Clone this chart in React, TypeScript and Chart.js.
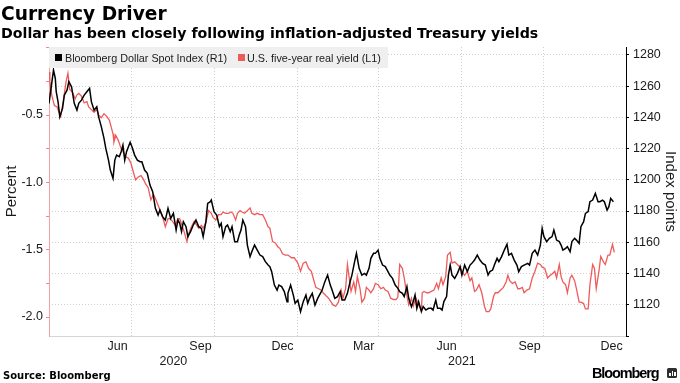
import { useEffect, useRef } from "react";
import { Chart, registerables } from "chart.js";

Chart.register(...registerables);

// x values are day numbers counted from 1 Jan 2020 (= day 0)
const dollarDays = [
  90, 95, 97, 98, 100, 102, 105, 107, 110, 112,
  115, 118, 121, 123, 126, 129, 132, 135, 137, 140,
  143, 145, 148, 151, 153, 156, 158, 161, 163, 165,
  168, 170, 172, 174, 176, 180, 182, 185, 188, 191,
  193, 196, 199, 202, 205, 208, 211, 213, 216, 219,
  222, 225, 228, 231, 233, 235, 237, 239, 242, 244,
  247, 250, 253, 256, 259, 261, 264, 266, 269, 270,
  273, 276, 279, 281, 283, 286, 288, 291, 293, 296,
  299, 301, 303, 305, 308, 310, 313, 315, 318, 321,
  324, 327, 330, 333, 335, 337, 340, 343, 345, 348,
  351, 354, 355, 358, 361, 363, 366, 369, 372, 375,
  377, 379, 382, 385, 388, 391, 393, 396, 399, 402,
  404, 407, 410, 413, 415, 418, 421, 424, 426, 429,
  431, 434, 437, 440, 442, 445, 447, 450, 452, 455,
  457, 460, 463, 466, 468, 471, 474, 477, 479, 482,
  484, 487, 489, 492, 494, 496, 498, 500, 503, 505,
  508, 511, 514, 516, 519, 521, 524, 526, 528, 531,
  533, 535, 537, 540, 543, 546, 548, 551, 554, 557,
  559, 562, 565, 568, 571, 574, 577, 579, 582, 584,
  587, 589, 592, 595, 598, 600, 603, 606, 609, 611,
  614, 617, 621, 623, 626, 629, 632, 635, 637, 639,
  642, 645, 648, 650, 653, 656, 658, 660, 663, 665,
  668, 670, 673, 675, 678, 680, 683, 685, 688, 690,
  693, 696, 699, 701, 704, 706, 709, 711, 713, 716,
];
const dollarIndex = [
  1248.9, 1270.2, 1264.9, 1256.4, 1250.0, 1240.4, 1245.7, 1254.2, 1257.4, 1262.8,
  1259.6, 1248.9, 1244.6, 1248.9, 1251.0, 1254.2, 1256.4, 1258.5, 1250.0, 1244.6,
  1246.8, 1240.4, 1234.0, 1226.5, 1220.1, 1212.6, 1206.2, 1200.9, 1212.6, 1215.8,
  1214.8, 1218.0, 1222.2, 1212.6, 1218.0, 1224.0, 1221.2, 1215.8, 1212.6, 1211.6,
  1211.6, 1206.2, 1204.1, 1196.6, 1192.4, 1181.7, 1177.4, 1180.6, 1176.4, 1174.2,
  1181.7, 1175.3, 1178.5, 1167.8, 1174.2, 1172.1, 1166.8, 1173.2, 1170.0, 1163.6,
  1166.8, 1171.0, 1174.2, 1170.0, 1168.9, 1163.6, 1173.2, 1184.9, 1186.0, 1187.0,
  1179.6, 1177.4, 1170.0, 1172.1, 1163.6, 1170.0, 1171.0, 1166.8, 1170.0, 1160.4,
  1160.4, 1164.6, 1167.8, 1174.2, 1170.0, 1158.2, 1150.8, 1154.0, 1158.2, 1155.0,
  1151.8, 1150.8, 1147.6, 1145.4, 1144.4, 1141.2, 1132.6, 1129.4, 1132.6, 1131.6,
  1128.4, 1122.0, 1127.3, 1132.6, 1126.2, 1120.9, 1123.0, 1115.6, 1122.0, 1126.2,
  1120.9, 1124.1, 1127.3, 1119.8, 1124.1, 1127.3, 1129.4, 1134.8, 1139.0, 1132.6,
  1129.4, 1124.1, 1125.2, 1128.4, 1123.0, 1123.0, 1127.3, 1134.8, 1139.0, 1147.6,
  1152.9, 1143.3, 1139.0, 1140.1, 1139.0, 1143.3, 1149.7, 1152.9, 1152.9, 1155.0,
  1149.7, 1145.4, 1144.4, 1141.2, 1139.0, 1136.9, 1132.6, 1130.5, 1128.4, 1127.3,
  1125.2, 1131.6, 1124.1, 1118.8, 1122.0, 1126.2, 1117.7, 1122.0, 1115.6, 1118.8,
  1116.6, 1117.7, 1117.7, 1116.6, 1123.0, 1117.7, 1117.7, 1116.6, 1122.0, 1125.2,
  1139.0, 1145.4, 1139.0, 1136.9, 1140.1, 1144.4, 1139.0, 1145.4, 1141.2, 1145.4,
  1146.5, 1148.6, 1151.8, 1148.6, 1146.5, 1145.4, 1139.0, 1141.2, 1142.2, 1145.4,
  1149.7, 1147.6, 1150.8, 1155.0, 1158.7, 1151.8, 1152.9, 1148.6, 1145.4, 1141.2,
  1144.4, 1145.4, 1146.5, 1145.4, 1152.9, 1155.0, 1151.8, 1158.2, 1168.9, 1163.6,
  1160.4, 1162.5, 1163.6, 1167.8, 1161.4, 1160.4, 1158.2, 1155.0, 1156.1, 1157.2,
  1154.0, 1160.4, 1162.5, 1161.4, 1159.3, 1170.0, 1173.2, 1178.5, 1179.6, 1186.0,
  1187.0, 1191.3, 1186.0, 1186.0, 1187.0, 1186.0, 1180.6, 1182.8, 1188.1, 1186.0,
];

const yieldDays = [
  90, 91, 93, 96, 99, 101, 103, 106, 109, 111,
  113, 116, 119, 121, 123, 126, 129, 132, 134, 137,
  140, 143, 145, 148, 151, 154, 157, 159, 161, 162,
  164, 167, 170, 172, 175, 178, 181, 183, 186, 189,
  192, 195, 197, 200, 203, 206, 208, 211, 214, 217,
  219, 222, 224, 227, 230, 233, 235, 238, 240, 243,
  245, 248, 251, 254, 256, 259, 261, 264, 267, 270,
  272, 275, 278, 281, 283, 286, 289, 292, 294, 297,
  299, 302, 304, 307, 310, 313, 315, 318, 321, 324,
  327, 330, 333, 335, 338, 341, 344, 346, 349, 352,
  355, 359, 362, 366, 369, 372, 375, 378, 381, 383,
  386, 389, 392, 394, 397, 400, 403, 405, 408, 411,
  414, 416, 419, 421, 423, 425, 428, 430, 432, 435,
  437, 440, 442, 445, 447, 450, 452, 455, 458, 461,
  463, 466, 469, 472, 475, 477, 479, 482, 484, 487,
  489, 492, 494, 497, 500, 503, 504, 506, 509, 511,
  514, 517, 520, 522, 525, 527, 530, 532, 535, 537,
  540, 543, 546, 548, 551, 554, 557, 559, 562, 564,
  567, 570, 573, 575, 578, 580, 583, 585, 588, 591,
  594, 597, 599, 601, 604, 607, 610, 612, 615, 617,
  620, 623, 626, 629, 632, 635, 637, 640, 643, 646,
  648, 651, 653, 656, 658, 660, 663, 665, 668, 670,
  673, 675, 678, 680, 683, 685, 688, 690, 693, 695,
  697, 700, 702, 705, 707, 710, 712, 715, 717,
];
const realYield = [
  -0.18, -0.25, -0.35, -0.43, -0.44, -0.48, -0.51, -0.39, -0.25, -0.19,
  -0.31, -0.33, -0.38, -0.35, -0.34, -0.36, -0.41, -0.40, -0.44, -0.46,
  -0.48, -0.46, -0.50, -0.52, -0.49, -0.51, -0.54, -0.59, -0.64, -0.70,
  -0.65, -0.69, -0.75, -0.77, -0.81, -0.82, -0.86, -0.91, -0.98, -0.96,
  -0.95, -0.98, -1.01, -1.04, -1.13, -1.09, -1.12, -1.17, -1.22, -1.28,
  -1.33, -1.27, -1.27, -1.29, -1.32, -1.27, -1.27, -1.33, -1.37, -1.44,
  -1.38, -1.33, -1.29, -1.32, -1.34, -1.32, -1.34, -1.30, -1.21, -1.23,
  -1.26, -1.28, -1.24, -1.24, -1.22, -1.23, -1.23, -1.22, -1.23, -1.28,
  -1.23, -1.21, -1.22, -1.23, -1.21, -1.19, -1.23, -1.24, -1.23, -1.24,
  -1.24, -1.28, -1.33, -1.34, -1.44, -1.45, -1.48, -1.49, -1.53, -1.54,
  -1.54, -1.56, -1.56, -1.60, -1.66, -1.60, -1.59, -1.64, -1.66, -1.71,
  -1.78, -1.79, -1.80, -1.82, -1.84, -1.86, -1.89, -1.91, -1.92, -1.89,
  -1.80, -1.86, -1.79, -1.61, -1.71, -1.81, -1.74, -1.81, -1.70, -1.79,
  -1.89, -1.86, -1.78, -1.80, -1.82, -1.79, -1.75, -1.76, -1.79, -1.78,
  -1.80, -1.81, -1.86, -1.87, -1.87, -1.85, -1.61, -1.64, -1.71, -1.84,
  -1.91, -1.86, -1.92, -1.86, -1.91, -1.95, -1.82, -1.81, -1.82, -1.82,
  -1.81, -1.80, -1.75, -1.79, -1.71, -1.76, -1.70, -1.54, -1.52, -1.60,
  -1.59, -1.61, -1.63, -1.66, -1.69, -1.66, -1.73, -1.71, -1.81, -1.80,
  -1.76, -1.82, -1.92, -1.96, -1.96, -1.94, -1.85, -1.82, -1.82, -1.80,
  -1.78, -1.74, -1.69, -1.73, -1.75, -1.74, -1.79, -1.79, -1.78, -1.82,
  -1.80, -1.79, -1.71, -1.66, -1.60, -1.61, -1.63, -1.64, -1.71, -1.69,
  -1.68, -1.66, -1.71, -1.61, -1.70, -1.74, -1.76, -1.82, -1.71, -1.69,
  -1.73, -1.79, -1.89, -1.89, -1.90, -1.94, -1.94, -1.76, -1.61, -1.64,
  -1.79, -1.66, -1.55, -1.59, -1.61, -1.54, -1.54, -1.46, -1.52,
];

// axis definitions (day numbers from 1 Jan 2020)
const xMin = 90;
const xMax = 730;
const gridDays = [182, 274, 366, 456, 547, 639];
const monthLabelDays = [166, 258, 349, 439, 531, 623, 714];
const monthLabels = ["Jun", "Sep", "Dec", "Mar", "Jun", "Sep", "Dec"];
const yearLabelDays = [228, 548];
const yearLabels = ["2020", "2021"];

const leftMin = -2.141;
const leftMax = 0.005;
const leftTicks = [-2, -1.75, -1.5, -1.25, -1, -0.75, -0.5, -0.25, 0];

const rightMin = 1100;
const rightMax = 1285;
const rightTicks = [
  1100, 1110, 1120, 1130, 1140, 1150, 1160, 1170, 1180, 1190,
  1200, 1210, 1220, 1230, 1240, 1250, 1260, 1270, 1280,
];

const seriesNames = ["Bloomberg Dollar Spot Index (R1)", "U.S. five-year real yield (L1)"];

const BLACK = "#000000";
const RED = "#ef5b5b";
const GRID = "#cfcfcf";
const FONT = "'Liberation Sans', Arial, sans-serif";
const HEAD_FONT = "'DejaVu Sans', Verdana, sans-serif";
const TRANSPARENT = "rgba(0,0,0,0)";

export default function App() {
  const canvasRef = useRef<HTMLCanvasElement>(null);

  useEffect(() => {
    const canvas = canvasRef.current;
    if (!canvas) return;
    const xTicks = [...gridDays, ...monthLabelDays, ...yearLabelDays].sort((a, b) => a - b);
    const chart = new Chart(canvas, {
      type: "line",
      data: {
        datasets: [
          {
            label: seriesNames[0],
            data: dollarDays.map((d, i) => ({ x: d, y: dollarIndex[i] })),
            borderColor: BLACK,
            borderWidth: 1.5,
            pointRadius: 0,
            tension: 0,
            yAxisID: "y2",
          },
          {
            label: seriesNames[1],
            data: yieldDays.map((d, i) => ({ x: d, y: realYield[i] })),
            borderColor: RED,
            borderWidth: 1.3,
            pointRadius: 0,
            tension: 0,
            yAxisID: "y",
          },
        ],
      },
      options: {
        responsive: false,
        animation: false,
        events: [],
        layout: { padding: { top: 47, left: 0, right: 0, bottom: 0 } },
        plugins: {
          legend: { display: false },
          tooltip: { enabled: false },
          title: { display: false },
        },
        scales: {
          x: {
            type: "linear",
            position: "bottom",
            min: xMin,
            max: xMax,
            afterBuildTicks: (scale: any) => {
              scale.ticks = xTicks.map((value) => ({ value }));
            },
            afterFit: (scale: any) => {
              scale.height = 47;
            },
            grid: {
              drawTicks: false,
              lineWidth: 1,
              color: (ctx: any) =>
                ctx.tick && gridDays.includes(ctx.tick.value) ? GRID : TRANSPARENT,
            },
            border: { display: true, color: "#d6d6d6", dash: [1, 2] },
            ticks: {
              autoSkip: false,
              maxRotation: 0,
              minRotation: 0,
              padding: 3,
              color: "#1a1a1a",
              font: { family: FONT, size: 12.5, lineHeight: 1.18 },
              callback: (value: any) => {
                const m = monthLabelDays.indexOf(value);
                if (m >= 0) return monthLabels[m];
                const y = yearLabelDays.indexOf(value);
                if (y >= 0) return ["", yearLabels[y]];
                return "";
              },
            },
          },
          y: {
            type: "linear",
            position: "left",
            min: leftMin,
            max: leftMax,
            afterBuildTicks: (scale: any) => {
              scale.ticks = leftTicks.map((value) => ({ value }));
            },
            afterFit: (scale: any) => {
              scale.width = 49;
            },
            grid: {
              drawOnChartArea: false,
              drawTicks: true,
              tickLength: 3,
              tickColor: "#f08a8a",
            },
            border: { display: true, color: "#f2a0a0", width: 1 },
            ticks: {
              padding: 3,
              color: "#1a1a1a",
              font: { family: FONT, size: 12.5 },
              callback: (value: any) => {
                const v = Number(value);
                return v < 0 && Math.abs(v * 2 - Math.round(v * 2)) < 1e-9 ? v.toFixed(1) : "";
              },
            },
            title: {
              display: true,
              text: "Percent",
              color: "#1a1a1a",
              padding: { top: 3, bottom: 0 },
              font: { family: FONT, size: 15 },
            },
          },
          y2: {
            type: "linear",
            position: "right",
            min: rightMin,
            max: rightMax,
            afterBuildTicks: (scale: any) => {
              scale.ticks = rightTicks.map((value) => ({ value }));
            },
            afterFit: (scale: any) => {
              scale.width = 54;
            },
            grid: {
              drawOnChartArea: true,
              drawTicks: true,
              tickLength: 3,
              tickColor: BLACK,
              lineWidth: 1,
              color: (ctx: any) => {
                const v = ctx.tick ? ctx.tick.value : NaN;
                return v % 20 === 0 && v > rightMin ? GRID : TRANSPARENT;
              },
            },
            border: { display: true, color: BLACK, width: 1, dash: [1, 2] },
            ticks: {
              padding: 4,
              color: "#1a1a1a",
              font: { family: FONT, size: 12.5 },
              callback: (value: any) => {
                const v = Number(value);
                return v % 20 === 0 && v > rightMin ? String(v) : "";
              },
            },
            title: {
              display: true,
              text: "Index points",
              color: "#1a1a1a",
              padding: { top: 1, bottom: 0 },
              font: { family: FONT, size: 15 },
            },
          },
        },
      },
    } as any);
    return () => chart.destroy();
  }, []);

  return (
    <div
      style={{
        position: "absolute",
        left: 0,
        top: 0,
        width: 680,
        height: 383,
        background: "#ffffff",
        overflow: "hidden",
        fontFamily: FONT,
        color: "#000",
      }}
    >
      <canvas
        ref={canvasRef}
        width={680}
        height={383}
        style={{ position: "absolute", left: 0, top: 0, width: 680, height: 383 }}
      />
      <div
        style={{
          position: "absolute",
          left: 1,
          top: 3,
          fontFamily: HEAD_FONT,
          fontSize: 18.6,
          lineHeight: "22px",
          fontWeight: 700,
          whiteSpace: "nowrap",
        }}
      >
        Currency Driver
      </div>
      <div
        style={{
          position: "absolute",
          left: 1,
          top: 25,
          fontFamily: HEAD_FONT,
          fontSize: 14.2,
          lineHeight: "17px",
          fontWeight: 700,
          whiteSpace: "nowrap",
        }}
      >
        Dollar has been closely following inflation-adjusted Treasury yields
      </div>
      <div
        style={{
          position: "absolute",
          left: 49,
          top: 47,
          width: 339,
          height: 21,
          background: "#efefef",
          display: "flex",
          alignItems: "center",
          fontSize: 10.8,
          color: "#1a1a1a",
          whiteSpace: "nowrap",
        }}
      >
        <span style={{ display: "inline-block", width: 7, height: 7, background: BLACK, marginLeft: 6, marginRight: 3 }} />
        <span>{seriesNames[0]}</span>
        <span style={{ display: "inline-block", width: 7, height: 7, background: RED, marginLeft: 11, marginRight: 2 }} />
        <span>{seriesNames[1]}</span>
      </div>
      <div
        style={{
          position: "absolute",
          left: 3,
          top: 370,
          fontFamily: HEAD_FONT,
          fontSize: 10,
          lineHeight: "12px",
          fontWeight: 700,
          whiteSpace: "nowrap",
        }}
      >
        Source: Bloomberg
      </div>
      <div
        style={{
          position: "absolute",
          left: 592,
          top: 365,
          fontSize: 14.5,
          lineHeight: "17px",
          fontWeight: 700,
          letterSpacing: -1.1,
          whiteSpace: "nowrap",
        }}
      >
        Bloomberg
      </div>
      <div
        style={{
          position: "absolute",
          left: 667,
          top: 368,
          width: 10,
          height: 10,
          borderRadius: 1.5,
          background: "#2e2e2e",
        }}
      >
        <div style={{ position: "absolute", left: 2, top: 5, width: 1.5, height: 3, background: "#fff" }} />
        <div style={{ position: "absolute", left: 4.5, top: 3, width: 1.5, height: 5, background: "#fff" }} />
        <div style={{ position: "absolute", left: 7, top: 4, width: 1.5, height: 4, background: "#fff" }} />
      </div>
    </div>
  );
}
